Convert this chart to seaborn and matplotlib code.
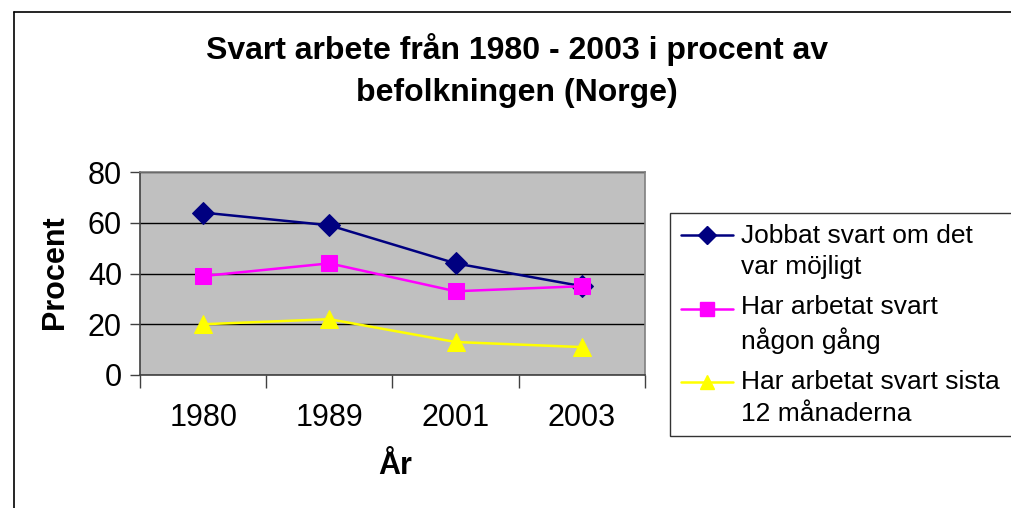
import pandas as pd
import seaborn as sns
import matplotlib.pyplot as plt
from matplotlib.lines import Line2D
from matplotlib.legend_handler import HandlerLine2D
from matplotlib.ticker import FixedLocator, NullFormatter

years = ["1980", "1989", "2001", "2003"]
jobbat = [64, 59, 44, 35]
nagon_gang = [39, 44, 33, 35]
sista_12 = [20, 22, 13, 11]
labels = ["Jobbat svart om det\nvar möjligt",
          "Har arbetat svart\nnågon gång",
          "Har arbetat svart sista\n12 månaderna"]


# legend handle sits on the first text line, like Excel does
class FirstLineHandler(HandlerLine2D):
    def create_artists(self, legend, orig_handle, xdescent, ydescent,
                       width, height, fontsize, trans):
        return super().create_artists(legend, orig_handle, xdescent,
                                      ydescent - 23, width, height,
                                      fontsize, trans)


sns.set_style("white")
plt.rcParams["font.family"] = ["Liberation Sans", "DejaVu Sans"]
plt.rcParams["text.color"] = "black"
plt.rcParams["xtick.color"] = "black"
plt.rcParams["ytick.color"] = "black"

fig = plt.figure(figsize=(10.12, 5.08), dpi=100)
ax = fig.add_axes([140 / 1012, 1 - 375 / 508, 505 / 1012, 203 / 508])
ax.set_facecolor("#C0C0C0")

series = [
    (jobbat, "#000080", "D", 11),
    (nagon_gang, "#FF00FF", "s", 12),
    (sista_12, "#FFFF00", "^", 13),
]
handles = []
for (vals, col, mk, ms), lab in zip(series, labels):
    df = pd.DataFrame({"year": years, "val": vals})
    sns.lineplot(data=df, x="year", y="val", ax=ax, color=col, marker=mk,
                 markersize=ms, markeredgecolor=col, linewidth=1.8,
                 sort=False, legend=False)
    handles.append(Line2D([0], [0], color=col, marker=mk, markersize=ms * 0.8,
                          markeredgecolor=col, linewidth=1.8))

ax.set_xlim(-0.5, 3.5)
ax.set_ylim(0, 80)
ax.set_yticks([0, 20, 40, 60, 80])
ax.yaxis.grid(True, color="black", linewidth=1)
ax.xaxis.grid(False)
ax.set_axisbelow(True)
for s in ax.spines.values():
    s.set_color("#808080")
    s.set_linewidth(1.2)
ax.spines["left"].set_color("#404040")
ax.spines["bottom"].set_color("#404040")

ax.tick_params(axis="x", which="major", length=0, labelsize=22, pad=20)
ax.xaxis.set_minor_locator(FixedLocator([-0.5, 0.5, 1.5, 2.5, 3.5]))
ax.xaxis.set_minor_formatter(NullFormatter())
ax.tick_params(axis="x", which="minor", length=9, width=1, color="#404040",
               direction="out", bottom=True)
ax.tick_params(axis="y", length=7, width=1, color="#404040", direction="out",
               labelsize=22, pad=6, left=True)

ax.set_xlabel("")
ax.set_ylabel("")
fig.text(395 / 1012, 1 - 466 / 508, "År", fontsize=22, fontweight="bold",
         ha="center", va="center")
fig.text(55 / 1012, 1 - 272 / 508, "Procent", fontsize=22, fontweight="bold",
         rotation=90, ha="center", va="center")

fig.text(517 / 1012, 1 - 49 / 508, "Svart arbete från 1980 - 2003 i procent av",
         fontsize=23, fontweight="bold", ha="center", va="center")
fig.text(517 / 1012, 1 - 93 / 508, "befolkningen (Norge)",
         fontsize=23, fontweight="bold", ha="center", va="center")

leg = fig.legend(handles, labels, loc="upper left",
                 bbox_to_anchor=(670 / 1012, 1 - 428 / 508, 0.36, 215 / 508),
                 mode="expand", handler_map={Line2D: FirstLineHandler()},
                 fontsize=19, frameon=True, fancybox=False, handlelength=2.0,
                 handletextpad=0.3, labelspacing=0.62, borderpad=0.4,
                 borderaxespad=0)
leg.get_frame().set_edgecolor("black")
leg.get_frame().set_linewidth(1)
for t in leg.get_texts():
    t.set_linespacing(1.38)

fig.add_artist(Line2D([14 / 1012, 14 / 1012], [0, 1 - 12 / 508],
                      color="black", linewidth=1.2))
fig.add_artist(Line2D([14 / 1012, 1], [1 - 12 / 508, 1 - 12 / 508],
                      color="black", linewidth=1.2))

fig.savefig("out.png", dpi=100)
